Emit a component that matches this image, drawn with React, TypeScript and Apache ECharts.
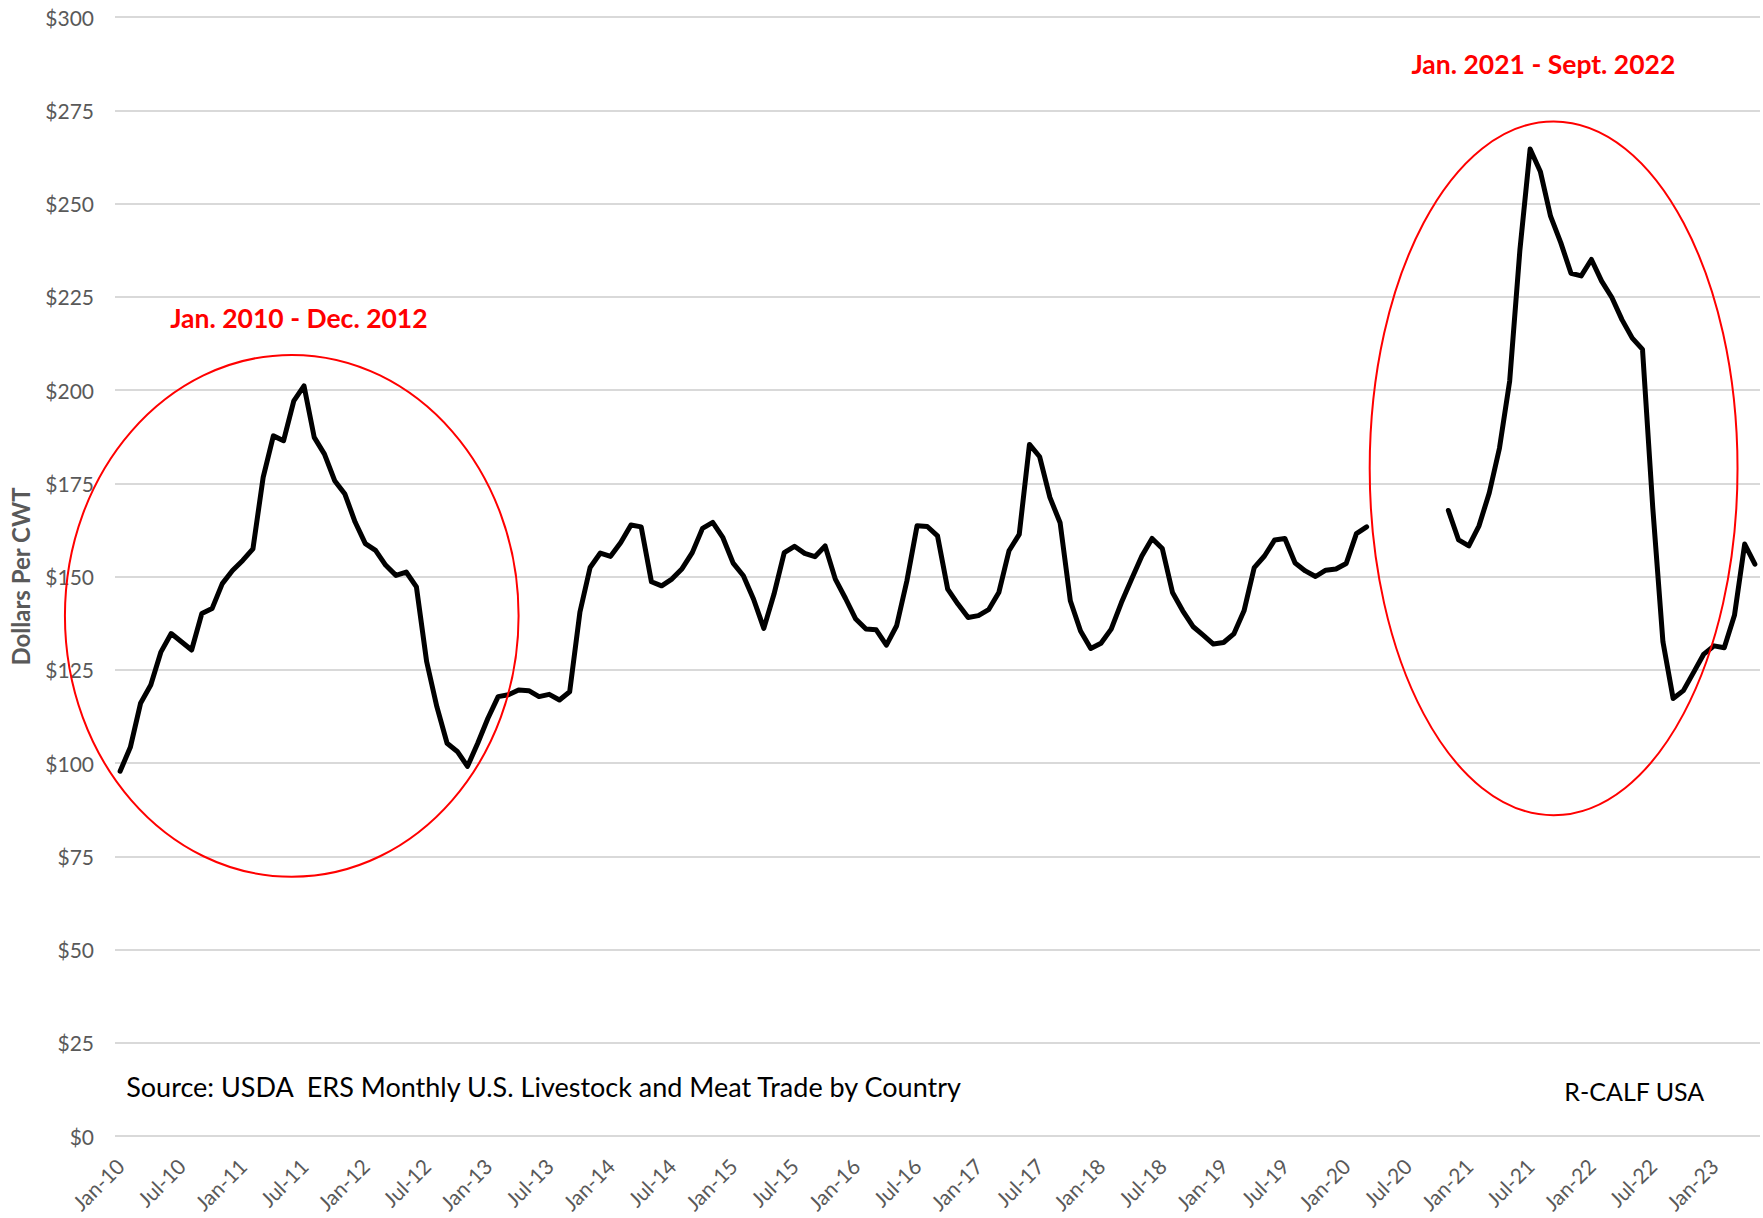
import React, { useEffect, useRef } from "react";
import * as echarts from "echarts";

const MONTHS = ["Jan", "Feb", "Mar", "Apr", "May", "Jun", "Jul", "Aug", "Sep", "Oct", "Nov", "Dec"];
const YEARS = ["10", "11", "12", "13", "14", "15", "16", "17", "18", "19", "20", "21", "22", "23"];
const MONTHS_IN_2023 = 5;

const PRICES_2010 = [97.8, 104.2, 116.0, 120.9, 129.8, 134.7, 132.5, 130.3, 140.1, 141.4, 148.1, 151.6];
const PRICES_2011 = [154.3, 157.4, 176.6, 187.7, 186.4, 197.1, 201.1, 187.3, 182.8, 175.7, 172.1, 164.6];
const PRICES_2012 = [158.8, 157.0, 153.0, 150.3, 151.2, 147.2, 127.2, 115.1, 105.3, 103.1, 99.1, 105.3];
const PRICES_2013 = [112.0, 117.8, 118.3, 119.6, 119.4, 117.8, 118.4, 116.9, 119.1, 140.4, 152.4, 156.3];
const PRICES_2014 = [155.4, 159.1, 163.8, 163.3, 148.6, 147.5, 149.3, 152.1, 156.4, 162.9, 164.5, 160.4];
const PRICES_2015 = [153.6, 150.2, 143.9, 136.1, 145.3, 156.4, 158.1, 156.2, 155.3, 158.2, 149.3, 144.1];
const PRICES_2016 = [138.6, 135.9, 135.7, 131.6, 136.8, 148.8, 163.6, 163.4, 160.9, 146.6, 142.6, 139.0];
const PRICES_2017 = [139.5, 141.1, 145.7, 156.9, 161.3, 185.4, 182.1, 171.2, 164.4, 143.5, 135.4, 130.7];
const PRICES_2018 = [132.1, 135.9, 143.0, 149.3, 155.5, 160.2, 157.5, 145.7, 140.8, 136.6, 134.3, 131.9];
const PRICES_2019 = [132.3, 134.6, 140.8, 152.4, 155.5, 159.8, 160.2, 153.6, 151.5, 150.0, 151.7, 152.0];
const PRICES_2020 = [153.5, 161.5, 163.3, null, null, null, null, null, null, null, 167.7, 159.8];
const PRICES_2021 = [158.2, 163.6, 172.4, 184.4, 202.4, 237.5, 264.6, 258.6, 246.6, 239.5, 231.3, 230.6];
const PRICES_2022 = [235.0, 229.2, 224.8, 218.8, 213.9, 210.9, 168.6, 132.5, 117.3, 119.4, 124.3, 129.2];
const PRICES_2023 = [131.4, 130.9, 139.6, 158.7, 153.3];

const PRICES: (number | null)[] = [
  ...PRICES_2010, ...PRICES_2011, ...PRICES_2012, ...PRICES_2013, ...PRICES_2014,
  ...PRICES_2015, ...PRICES_2016, ...PRICES_2017, ...PRICES_2018, ...PRICES_2019,
  ...PRICES_2020, ...PRICES_2021, ...PRICES_2022, ...PRICES_2023,
];

const CATEGORIES: string[] = [];
YEARS.forEach((y, i) => {
  const n = i === YEARS.length - 1 ? MONTHS_IN_2023 : 12;
  for (let k = 0; k < n; k++) CATEGORIES.push(`${MONTHS[k]}-${y}`);
});

const Y_MIN = 0;
const Y_MAX = 300;
const Y_STEP = 25;

const TITLE_Y = "Dollars Per CWT";
const NOTE_LEFT = "Jan. 2010 - Dec. 2012";
const NOTE_RIGHT = "Jan. 2021 - Sept. 2022";
const SOURCE = "Source: USDA  ERS Monthly U.S. Livestock and Meat Trade by Country";
const BRAND = "R-CALF USA";

const FONT = "Lato, 'Open Sans', 'Liberation Sans', sans-serif";

export default function App() {
  const ref = useRef<HTMLDivElement | null>(null);

  useEffect(() => {
    document.body.style.margin = "0";
    if (!ref.current) return;
    const chart = echarts.init(ref.current, null, { renderer: "svg" });

    chart.setOption({
      animation: false,
      backgroundColor: "#ffffff",
      grid: { left: 113, right: 3, top: 17, bottom: 82, containLabel: false },
      xAxis: {
        type: "category",
        data: CATEGORIES,
        boundaryGap: true,
        axisLine: { show: false },
        axisTick: { show: false },
        axisLabel: {
          interval: 5,
          rotate: 45,
          margin: 26,
          color: "#595959",
          fontSize: 21,
          fontFamily: FONT,
        },
        splitLine: { show: false },
      },
      yAxis: {
        type: "value",
        min: Y_MIN,
        max: Y_MAX,
        interval: Y_STEP,
        axisLine: { show: false },
        axisTick: { show: false },
        axisLabel: {
          formatter: (v: number) => `$${v}`,
          color: "#595959",
          fontSize: 21,
          fontFamily: FONT,
          margin: 21,
        },
        splitLine: { show: true, lineStyle: { color: "#d9d9d9", width: 2 } },
        name: TITLE_Y,
        nameLocation: "middle",
        nameGap: 83,
        nameRotate: 90,
        nameTextStyle: {
          color: "#595959",
          fontSize: 24,
          fontWeight: "bold",
          fontFamily: FONT,
        },
      },
      series: [
        {
          type: "line",
          data: PRICES,
          showSymbol: false,
          symbol: "none",
          connectNulls: false,
          lineStyle: { color: "#000000", width: 5, join: "round", cap: "round" },
          itemStyle: { color: "#000000" },
        },
      ],
    });

    const p0 = chart.convertToPixel({ gridIndex: 0 }, [0, Y_MIN]) as number[];
    const p1 = chart.convertToPixel({ gridIndex: 0 }, [CATEGORIES.length - 1, Y_MAX]) as number[];
    const px = (m: number) => p0[0] + ((p1[0] - p0[0]) * m) / (CATEGORIES.length - 1);
    const py = (v: number) => p0[1] + ((p1[1] - p0[1]) * (v - Y_MIN)) / (Y_MAX - Y_MIN);

    const ellipse = (m0: number, m1: number, v0: number, v1: number) => {
      const x0 = px(m0), x1 = px(m1), y0 = py(v0), y1 = py(v1);
      return {
        type: "ellipse",
        z: 100,
        shape: { cx: (x0 + x1) / 2, cy: (y0 + y1) / 2, rx: Math.abs(x1 - x0) / 2, ry: Math.abs(y1 - y0) / 2 },
        style: { fill: "none", stroke: "#ff0000", lineWidth: 2 },
      };
    };
    const label = (text: string, x: number, y: number, color: string, size: number, weight: string, align: string) => ({
      type: "text",
      z: 100,
      x,
      y,
      style: {
        text,
        fill: color,
        font: `${weight} ${size}px ${FONT}`,
        textAlign: align,
        textVerticalAlign: "middle",
        align,
        verticalAlign: "middle",
      },
    });

    chart.setOption({
      graphic: [
        ellipse(-5.4, 39.0, 69.5, 209.4),
        ellipse(122.3, 158.3, 86.0, 272.0),
        label(NOTE_LEFT, px(17.5), py(219.2), "#ff0000", 26.5, "bold", "center"),
        label(NOTE_RIGHT, px(139.3), py(287.3), "#ff0000", 26.5, "bold", "center"),
        label(SOURCE, px(0.6), py(13.4), "#000000", 27, "normal", "left"),
        label(BRAND, px(148.2), py(12.0), "#000000", 25, "normal", "center"),
      ],
    });

    return () => {
      chart.dispose();
    };
  }, []);

  return <div ref={ref} style={{ width: 1763, height: 1218 }} />;
}
